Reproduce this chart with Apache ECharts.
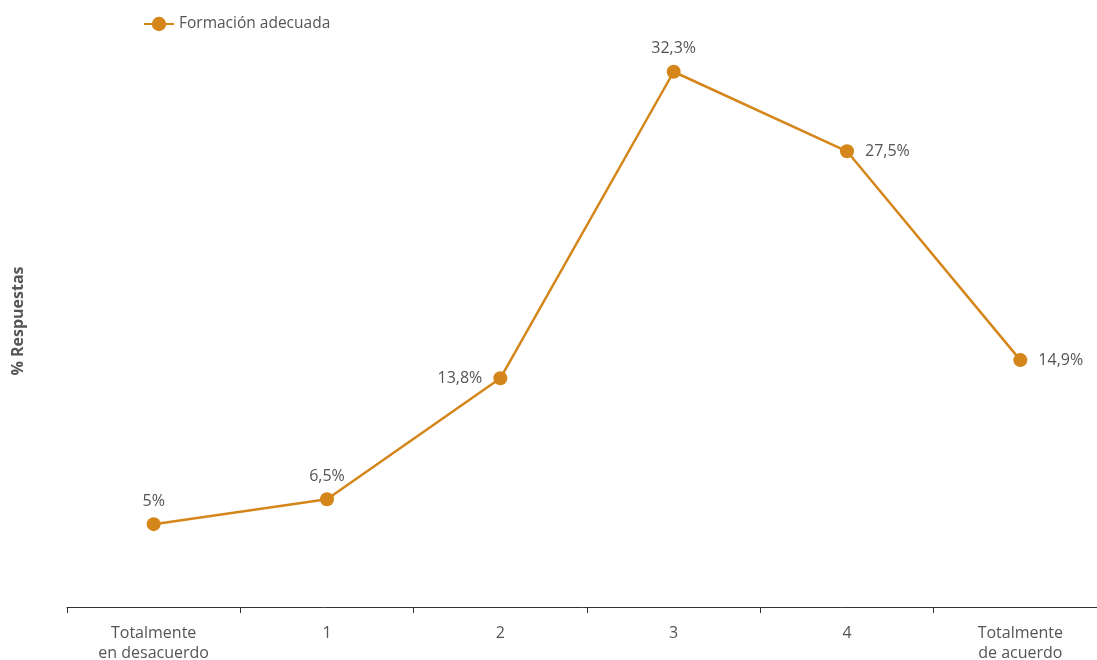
<!DOCTYPE html>
<html><head><meta charset="utf-8">
<script src="https://cdn.jsdelivr.net/npm/echarts@6/dist/echarts.min.js"></script>
<style>html,body{margin:0;padding:0;background:#fff}#c{width:1097px;height:660px}</style>
</head><body><div id="c"></div>
<script>
var categories = ['Totalmente\nen desacuerdo', '1', '2', '3', '4', 'Totalmente\nde acuerdo'];
var values = [5, 6.5, 13.8, 32.3, 27.5, 14.9];
var valueLabels = ['5%', '6,5%', '13,8%', '32,3%', '27,5%', '14,9%'];
var labelPositions = ['top', 'top', 'left', 'top', 'right', 'right'];
var seriesName = 'Formación adecuada';
var color = '#D4861A';
var font = '"Open Sans", "Noto Sans", sans-serif';

var chart = echarts.init(document.getElementById('c'));
chart.setOption({
  animation: false,
  textStyle: {fontFamily: font},
  legend: {
    left: 138, top: 11, itemWidth: 30, itemHeight: 18, itemGap: 10,
    textStyle: {color: '#555', fontSize: 15.5, fontFamily: font},
    data: [seriesName]
  },
  grid: {left: 67, right: -10, top: 27, bottom: 53, containLabel: false, outerBoundsMode: 'none'},
  xAxis: {
    type: 'category', data: categories, boundaryGap: true,
    axisLine: {lineStyle: {color: '#333', width: 1}},
    axisTick: {show: true, length: 6, lineStyle: {color: '#333'}},
    axisLabel: {color: '#555', fontSize: 16, lineHeight: 20, margin: 16, fontFamily: font}
  },
  yAxis: {
    type: 'value', min: 0, max: 35,
    name: '% Respuestas', nameLocation: 'middle', nameGap: 41,
    nameTextStyle: {color: '#555', fontSize: 16, fontWeight: 'bold', fontFamily: font, padding: [0, 8, 0, 0]},
    axisLine: {show: false}, axisTick: {show: false}, axisLabel: {show: false}, splitLine: {show: false}
  },
  series: [{
    name: seriesName, type: 'line',
    data: values.map(function (v, i) {
      return {value: v, label: {position: labelPositions[i], distance: labelPositions[i] === 'top' ? 8 : 11}};
    }),
    symbol: 'circle', symbolSize: 14,
    itemStyle: {color: color},
    lineStyle: {color: color, width: 2.5},
    label: {
      show: true, color: '#555', fontSize: 16, fontFamily: font,
      formatter: function (p) { return valueLabels[p.dataIndex]; }
    }
  }]
});
</script></body></html>
